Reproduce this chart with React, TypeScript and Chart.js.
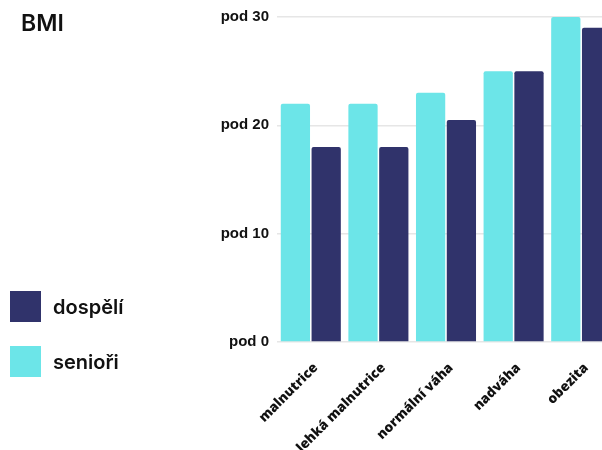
import React, { useEffect, useRef } from 'react';
import { Chart, registerables } from 'chart.js';

Chart.register(...registerables);

const categories = ['malnutrice', 'lehká malnutrice', 'normální váha', 'nadváha', 'obezita'];
const seniori = [22, 22, 23, 25, 30];
const dospeli = [18, 18, 20.5, 25, 29];
const yTicks = [0, 10, 20, 30];
const yPrefix = 'pod ';
const titleText = 'BMI';
const seriesNames = ['senioři', 'dospělí'];

const CYAN = '#6ce5e8';
const NAVY = '#30336b';

export default function App() {
  const ref = useRef<HTMLCanvasElement>(null);

  useEffect(() => {
    const chart = new Chart(ref.current as HTMLCanvasElement, {
      type: 'bar',
      data: {
        labels: categories,
        datasets: [
          {
            label: seriesNames[0],
            data: seniori,
            backgroundColor: CYAN,
            borderRadius: 2,
            borderSkipped: 'bottom',
            categoryPercentage: 0.911,
            barPercentage: 0.95,
          },
          {
            label: seriesNames[1],
            data: dospeli,
            backgroundColor: NAVY,
            borderRadius: 2,
            borderSkipped: 'bottom',
            categoryPercentage: 0.911,
            barPercentage: 0.95,
          },
        ],
      },
      options: {
        responsive: false,
        animation: false,
        layout: { padding: { top: 17, right: 5, left: 0, bottom: 0 } },
        plugins: {
          legend: { display: false },
          title: { display: false },
          tooltip: { enabled: false },
        },
        scales: {
          x: {
            grid: { display: false },
            border: { display: false },
            ticks: {
              minRotation: 45,
              maxRotation: 45,
              autoSkip: false,
              padding: 10,
              labelOffset: 5,
              color: '#111',
              font: { family: 'Open Sans', size: 13.5, weight: 800 },
            },
            afterFit: (s: any) => {
              s.height = 108;
            },
          },
          y: {
            min: 0,
            max: 30,
            afterBuildTicks: (s: any) => {
              s.ticks = yTicks.map((v) => ({ value: v }));
            },
            ticks: {
              padding: 8,
              color: '#111',
              font: { family: 'Liberation Sans', size: 15, weight: 'bold' },
              callback: (v: any) => yPrefix + v,
            },
            grid: { color: '#e6e6e6', lineWidth: 1.5, drawTicks: false },
            border: { display: false },
            afterFit: (s: any) => {
              s.width = 277;
            },
          },
        },
      },
    });
    return () => chart.destroy();
  }, []);

  const legendItems = [
    { name: seriesNames[1], color: NAVY },
    { name: seriesNames[0], color: CYAN },
  ];

  return (
    <div
      style={{
        position: 'fixed',
        left: 0,
        top: 0,
        width: 602,
        height: 450,
        overflow: 'hidden',
        background: '#fff',
      }}
    >
      <canvas ref={ref} width={620} height={450} style={{ position: 'absolute', left: 0, top: 0 }} />
      <div
        style={{
          position: 'absolute',
          left: 21,
          top: 8,
          fontFamily: 'Inter',
          fontWeight: 600,
          fontSize: 23,
          color: '#111',
          lineHeight: '30px',
        }}
      >
        {titleText}
      </div>
      {legendItems.map((it, i) => (
        <div
          key={it.name}
          style={{
            position: 'absolute',
            left: 10,
            top: 291 + i * 55,
            height: 31,
            display: 'flex',
            alignItems: 'center',
          }}
        >
          <div style={{ width: 31, height: 31, background: it.color }} />
          <span
            style={{
              marginLeft: 12,
              fontFamily: 'Inter',
              fontWeight: 600,
              fontSize: 20,
              color: '#111',
            }}
          >
            {it.name}
          </span>
        </div>
      ))}
    </div>
  );
}
